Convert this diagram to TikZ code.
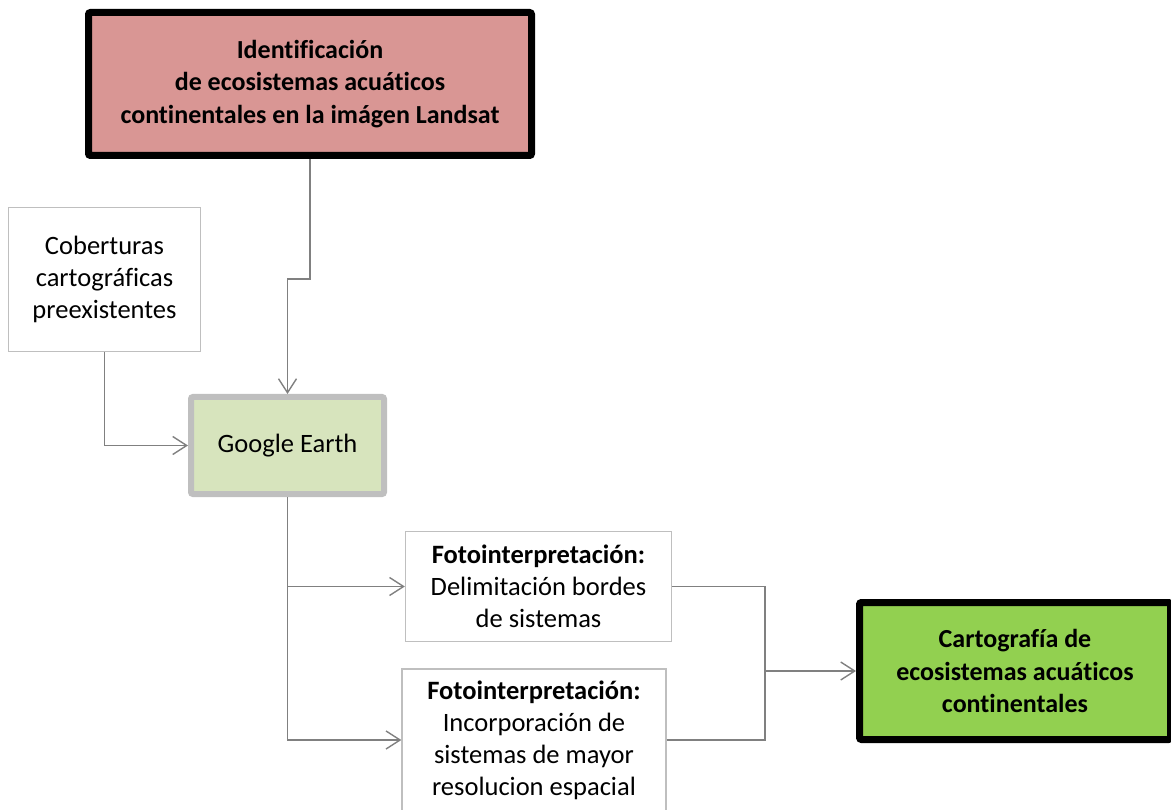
\documentclass[tikz,border=0pt]{standalone}
\usepackage{fontspec}
\setmainfont{Carlito}[Ligatures=NoCommon]
\usetikzlibrary{positioning, arrows.meta, calc}
\definecolor{identcol}{RGB}{217,150,148}
\definecolor{earthcol}{RGB}{215,228,189}
\definecolor{cartocol}{RGB}{146,208,80}
\definecolor{framecol}{RGB}{191,191,191}
\definecolor{linkcol}{RGB}{128,128,128}

\begin{document}
\begin{tikzpicture}[
			x=1pt, y=-1pt,
			font=\fontsize{26.5}{32}\selectfont,
			box/.style={
				draw=framecol,
				line width=1.3pt,
				fill=white,
				align=center,
				inner sep=0pt
			},
			keybox/.style={
				box,
				draw=black,
				line width=7pt,
				rounded corners=2pt,
				font=\fontsize{26}{32.5}\selectfont\bfseries
			},
			earthbox/.style={
				box,
				line width=6pt,
				rounded corners=2pt,
				fill=earthcol
			},
			linkline/.style={
				draw=linkcol,
				line width=1.4pt
			},
			link/.style={
				linkline,
				-{Straight Barb[length=14pt,width=18pt]}
			}
			]
			\useasboundingbox (0,0) rectangle (1171,810);
			
			% Boxes
			\node[keybox, fill=identcol, minimum width=443pt, minimum height=143pt] (ident) at (310,84)
				{Identificación\\ de ecosistemas acuáticos\\ continentales en la imágen Landsat};
			\node[box, minimum width=192pt, minimum height=144pt] (cober) at (104.5,279.5)
				{Coberturas\\ cartográficas\\ preexistentes};
			\node[earthbox, minimum width=193pt, minimum height=97pt] (earth) at (287.5,445.5) {Google Earth};
			\node[box, minimum width=266pt, minimum height=110pt] (foto1) at (538.5,586.5)
				{\textbf{Fotointerpretación:}\\ Delimitación bordes\\ de sistemas};
			\node[box, minimum width=264pt, minimum height=142pt] (foto2) at (534,740)
				{\textbf{Fotointerpretación:}\\ Incorporación de\\ sistemas de mayor\\ resolucion espacial};
			\node[keybox, fill=cartocol, minimum width=311pt, minimum height=137pt] (carto) at (1015,671)
				{Cartografía de\\ ecosistemas acuáticos\\ continentales};
			\coordinate (merge) at (765,671);
			
			% Connectors
			\draw[link] (ident.south) -- ++(0,120) -| (earth.north);
			\draw[link] (cober.south) |- (earth.west);
			\draw[link] (earth.south) |- (foto1.west);
			\draw[link] (earth.south) |- (foto2.west);
			\draw[linkline] (foto1.east) -| (merge);
			\draw[linkline] (foto2.east) -| (merge);
			\draw[link] (merge) -- (carto.west);
		\end{tikzpicture}
\end{document}
